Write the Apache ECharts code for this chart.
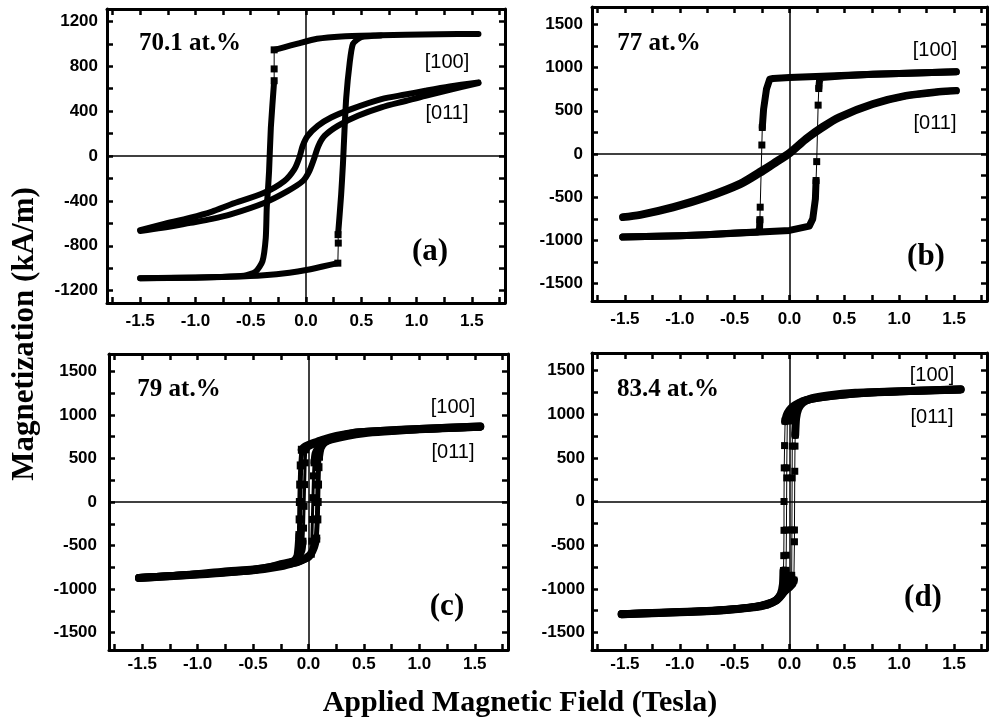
<!DOCTYPE html>
<html>
<head>
<meta charset="utf-8">
<script src="https://cdn.jsdelivr.net/npm/echarts@6/dist/echarts.min.js"></script>
<style>
  html, body { margin: 0; padding: 0; background: #fff; }
  #chart { width: 992px; height: 720px; }
</style>
</head>
<body>
<div id="chart"></div>
<script>
// Tick positions and labels
const fieldLabels = [-1.5, -1.0, -0.5, 0, 0.5, 1.0, 1.5];
const fieldTicks = [-1.75, -1.5, -1.25, -1, -0.75, -0.5, -0.25, 0, 0.25, 0.5, 0.75, 1, 1.25, 1.5, 1.75];
const magLabelsA = [-1200, -800, -400, 0, 400, 800, 1200];
const magTicksA = [-1200, -1000, -800, -600, -400, -200, 0, 200, 400, 600, 800, 1000, 1200];
const magLabels = [-1500, -1000, -500, 0, 500, 1000, 1500];
const magTicks = [-1500, -1250, -1000, -750, -500, -250, 0, 250, 500, 750, 1000, 1250, 1500];

// (a) 70.1 at.%  —  [100] loop, [field T, magnetization kA/m]
const a100Top = [[1.56,1088],[1.2,1085],[0.9,1080],[0.68,1075],[0.32,1066],[0.1,1045],[-0.075,1002],[-0.2,968],[-0.288,946]];
const a100LeftJump = [[-0.288,946],[-0.288,776],[-0.288,671]];
const a100LeftDrop = [[-0.288,671],[-0.318,253],[-0.334,-134],[-0.343,-284],[-0.355,-463],[-0.364,-731],[-0.394,-940],[-0.455,-1030],[-0.56,-1068],[-0.8,-1078],[-1.2,-1085],[-1.5,-1090]];
const a100Bottom = [[-1.5,-1090],[-1.0,-1084],[-0.68,-1076],[-0.38,-1062],[-0.15,-1040],[0.015,-1014],[0.15,-985],[0.288,-955]];
const a100RightJump = [[0.288,-955],[0.292,-776],[0.29,-701]];
const a100RightRise = [[0.29,-701],[0.318,-343],[0.334,-74],[0.348,224],[0.364,522],[0.394,821],[0.425,1000],[0.5,1059],[0.68,1074]];
// (a) [011] loop
const a011Down = [[1.56,656],[1.3,620],[1.08,582],[0.9,548],[0.682,507],[0.409,418],[0.227,343],[0.106,269],[0.015,179],[-0.03,90],[-0.061,-15],[-0.106,-119],[-0.197,-224],[-0.379,-328],[-0.682,-432],[-0.85,-495],[-1.045,-550],[-1.3,-610],[-1.5,-660]];
const a011Up = [[-1.5,-668],[-1.3,-640],[-1.045,-595],[-0.85,-560],[-0.682,-520],[-0.379,-418],[-0.167,-313],[-0.03,-224],[0.03,-134],[0.076,-15],[0.112,90],[0.167,179],[0.288,269],[0.47,358],[0.682,433],[0.9,490],[1.08,537],[1.3,590],[1.56,650]];

// (b) 77 at.%  —  [100] loop
const b100Top = [[1.52,950],[1.0,930],[0.76,923],[0.24,896],[0,884],[-0.15,873],[-0.18,865],[-0.21,750],[-0.236,519],[-0.248,307]];
const b100LeftJump = [[-0.248,307],[-0.252,104],[-0.267,-615],[-0.27,-760]];
const b100LeftTail = [[-0.27,-760],[-0.273,-865],[-0.29,-903],[-0.5,-915],[-0.76,-934],[-1.0,-945],[-1.52,-961]];
const b100Bottom = [[-1.52,-961],[-1.0,-945],[-0.76,-934],[-0.27,-903],[0,-884],[0.18,-834],[0.212,-750],[0.236,-519],[0.242,-307]];
const b100RightJump = [[0.242,-307],[0.248,-88],[0.261,565],[0.267,757]];
const b100RightTail = [[0.267,757],[0.273,846],[0.29,884],[0.5,905],[0.76,923],[1.0,932],[1.52,950]];
// (b) [011] loop
const b011Down = [[1.52,735],[1.36,722],[1.06,676],[0.76,582],[0.45,430],[0.3,318],[0.15,182],[0,20],[-0.15,-105],[-0.27,-200],[-0.45,-336],[-0.76,-492],[-1.06,-608],[-1.36,-698],[-1.52,-725]];
const b011Up = [[-1.52,-735],[-1.36,-708],[-1.06,-622],[-0.76,-508],[-0.45,-356],[-0.27,-224],[-0.15,-125],[0,0],[0.15,165],[0.3,300],[0.45,416],[0.76,572],[1.06,670],[1.36,716],[1.52,730]];

// (c) 79 at.%  —  [100] loop
const c100Top = [[1.55,868],[1.2,850],[1.0,838],[0.75,825],[0.45,800],[0.3,770],[0.2,742],[0.12,712],[0.05,680],[0,655],[-0.04,630],[-0.06,600]];
const c100LeftJump = [[-0.06,600],[-0.07,420],[-0.075,200],[-0.078,0],[-0.08,-200],[-0.082,-380]];
const c100LeftTail = [[-0.082,-380],[-0.09,-520],[-0.1,-620],[-0.13,-680],[-0.25,-715],[-0.35,-750],[-0.5,-775],[-0.77,-800],[-1.07,-836],[-1.53,-873]];
const c100Bottom = [[-1.53,-873],[-1.0,-833],[-0.5,-780],[-0.25,-725],[-0.1,-690],[-0.03,-650],[0.02,-600],[0.05,-520],[0.07,-420]];
const c100RightJump = [[0.07,-420],[0.08,-200],[0.083,0],[0.086,200],[0.09,400],[0.095,520]];
const c100RightTail = [[0.095,520],[0.11,620],[0.15,690],[0.25,745],[0.4,790],[0.6,812],[1.0,838],[1.55,868]];
// (c) [011] loop
const c011Top = [[1.55,860],[1.0,832],[0.5,795],[0.25,745],[0.12,700],[0.05,665],[0,635],[-0.025,600]];
const c011LeftJump = [[-0.025,600],[-0.03,450],[-0.035,200],[-0.04,-50],[-0.045,-300],[-0.05,-450]];
const c011LeftTail = [[-0.05,-450],[-0.06,-560],[-0.1,-650],[-0.2,-710],[-0.5,-785],[-1.0,-830],[-1.53,-866]];
const c011Bottom = [[-1.53,-866],[-1.0,-828],[-0.5,-790],[-0.25,-745],[-0.12,-700],[-0.05,-665],[0,-640],[0.025,-600]];
const c011RightJump = [[0.025,-600],[0.03,-450],[0.035,-200],[0.04,50],[0.045,300],[0.05,450]];
const c011RightTail = [[0.05,450],[0.06,560],[0.1,650],[0.2,710],[0.5,785],[1.0,830],[1.55,860]];

// (d) 83.4 at.%  —  [100] loop
const d100Top = [[1.56,1285],[1.2,1270],[0.8,1250],[0.5,1225],[0.3,1195],[0.15,1160],[0.08,1125],[0.03,1085],[0,1045],[-0.025,990],[-0.04,920]];
const d100LeftJump = [[-0.04,920],[-0.045,640],[-0.048,385],[-0.05,0],[-0.05,-330],[-0.052,-620],[-0.055,-790]];
const d100LeftTail = [[-0.055,-790],[-0.06,-950],[-0.08,-1060],[-0.12,-1130],[-0.2,-1180],[-0.35,-1215],[-0.6,-1245],[-1.0,-1268],[-1.53,-1290]];
const d100Bottom = [[-1.53,-1290],[-1.0,-1266],[-0.6,-1242],[-0.35,-1212],[-0.2,-1178],[-0.12,-1128],[-0.08,-1070],[-0.03,-1010],[0,-980],[0.025,-950],[0.04,-900]];
const d100RightJump = [[0.04,-900],[0.045,-461],[0.045,-326],[0.048,346],[0.05,634],[0.052,760]];
const d100RightTail = [[0.052,760],[0.06,950],[0.08,1060],[0.12,1130],[0.2,1180],[0.35,1215],[0.6,1245],[1.0,1262],[1.56,1282]];
// (d) [011] loop
const d011Top = [[1.56,1280],[1.0,1258],[0.5,1220],[0.2,1170],[0.08,1115],[0.02,1060],[-0.01,1000],[-0.02,923]];
const d011LeftJump = [[-0.02,923],[-0.025,385],[-0.025,270],[-0.028,-326],[-0.03,-615],[-0.032,-788]];
const d011LeftTail = [[-0.032,-788],[-0.04,-960],[-0.06,-1060],[-0.12,-1140],[-0.3,-1205],[-0.7,-1250],[-1.53,-1286]];
const d011Bottom = [[-1.53,-1286],[-0.7,-1248],[-0.3,-1200],[-0.12,-1130],[-0.04,-1030],[0.01,-950],[0.02,-845]];
const d011RightJump = [[0.02,-845],[0.022,-326],[0.024,270],[0.025,634],[0.028,923]];
const d011RightTail = [[0.028,923],[0.035,1030],[0.06,1100],[0.12,1150],[0.3,1200],[0.7,1245],[1.56,1280]];

const BLACK = '#000';
const SERIF = '"Liberation Serif", "Times New Roman", serif';
const SANS = '"Liberation Sans", Arial, sans-serif';

// Densely sampled stretch of a loop: drawn as a heavy stroke
function dense(p, data, w, smooth) {
  return {
    type: 'line', xAxisIndex: 2 * p, yAxisIndex: 2 * p, data: data,
    symbol: 'none', showSymbol: false, silent: true, z: 3,
    smooth: smooth || false,
    lineStyle: { color: BLACK, width: w, cap: 'round', join: 'round' }
  };
}
// Sparsely sampled switching stretch: square markers joined by a line
function sparse(p, data, w, size) {
  return {
    type: 'line', xAxisIndex: 2 * p, yAxisIndex: 2 * p, data: data,
    symbol: 'rect', symbolSize: size || 7, showAllSymbol: true, silent: true, z: 4,
    itemStyle: { color: BLACK },
    lineStyle: { color: BLACK, width: w || 1 }
  };
}
function zeroLines(p) {
  return {
    type: 'line', xAxisIndex: 2 * p, yAxisIndex: 2 * p, data: [], silent: true, z: 2,
    markLine: {
      silent: true, symbol: ['none', 'none'], label: { show: false },
      lineStyle: { color: BLACK, width: 1.5, type: 'solid' },
      data: [{ xAxis: 0 }, { yAxis: 0 }]
    }
  };
}

const grids = [
  { left: 107, top: 9, width: 398, height: 294 },
  { left: 592, top: 7, width: 395, height: 294 },
  { left: 109, top: 354, width: 399, height: 296 },
  { left: 592, top: 353, width: 395, height: 297 }
];
const yRange = [1310, 1700, 1700, 1700];
const xLabelMargin = [10, 10, 6, 6];
const yLabelMargin = [9, 9, 12, 7];

const axisLineStyle = { show: true, onZero: false, lineStyle: { color: BLACK, width: 3 } };
const tickStyle = (vals) => ({ show: true, inside: true, length: 6, lineStyle: { color: BLACK, width: 2.5 }, customValues: vals });

const xAxes = [], yAxes = [];
grids.forEach((g, i) => {
  xAxes.push({
    type: 'value', gridIndex: i, position: 'bottom', min: -1.8, max: 1.8,
    axisLine: axisLineStyle, axisTick: tickStyle(fieldTicks), splitLine: { show: false },
    axisLabel: {
      customValues: fieldLabels, margin: xLabelMargin[i],
      color: BLACK, fontFamily: SANS, fontWeight: 'bold', fontSize: 17,
      formatter: (v) => v.toFixed(1)
    }
  });
  xAxes.push({
    type: 'value', gridIndex: i, position: 'top', min: -1.8, max: 1.8,
    axisLine: axisLineStyle, axisTick: tickStyle(fieldTicks), splitLine: { show: false },
    axisLabel: { show: false }
  });
  const labels = i === 0 ? magLabelsA : magLabels;
  const ticks = i === 0 ? magTicksA : magTicks;
  yAxes.push({
    type: 'value', gridIndex: i, position: 'left', min: -yRange[i], max: yRange[i],
    axisLine: axisLineStyle, axisTick: tickStyle(ticks), splitLine: { show: false },
    axisLabel: {
      customValues: labels, margin: yLabelMargin[i],
      color: BLACK, fontFamily: SANS, fontWeight: 'bold', fontSize: 17,
      formatter: (v) => String(v)
    }
  });
  yAxes.push({
    type: 'value', gridIndex: i, position: 'right', min: -yRange[i], max: yRange[i],
    axisLine: axisLineStyle, axisTick: tickStyle(ticks), splitLine: { show: false },
    axisLabel: { show: false }
  });
});

const series = [
  zeroLines(0), zeroLines(1), zeroLines(2), zeroLines(3),
  dense(0, a011Down, 6, 0.3), dense(0, a011Up, 6, 0.3),
  dense(0, a100Top, 6, 0.2), sparse(0, a100LeftJump), dense(0, a100LeftDrop, 6, 0.2),
  dense(0, a100Bottom, 6, 0.2), sparse(0, a100RightJump), dense(0, a100RightRise, 6, 0.2),

  dense(1, b011Down, 7, 0.3), dense(1, b011Up, 7, 0.3),
  dense(1, b100Top, 7), sparse(1, b100LeftJump), dense(1, b100LeftTail, 7),
  dense(1, b100Bottom, 7), sparse(1, b100RightJump), dense(1, b100RightTail, 7),

  dense(2, c100Top, 8, 0.2), sparse(2, c100LeftJump, 5, 8), dense(2, c100LeftTail, 8, 0.2),
  dense(2, c100Bottom, 8, 0.2), sparse(2, c100RightJump, 5, 8), dense(2, c100RightTail, 8, 0.2),
  dense(2, c011Top, 7, 0.2), sparse(2, c011LeftJump, 3, 7), dense(2, c011LeftTail, 7, 0.2),
  dense(2, c011Bottom, 7, 0.2), sparse(2, c011RightJump, 3, 7), dense(2, c011RightTail, 7, 0.2),

  dense(3, d100Top, 8, 0.2), sparse(3, d100LeftJump), dense(3, d100LeftTail, 8, 0.2),
  dense(3, d100Bottom, 8, 0.2), sparse(3, d100RightJump), dense(3, d100RightTail, 8, 0.2),
  dense(3, d011Top, 7, 0.2), sparse(3, d011LeftJump), dense(3, d011LeftTail, 7, 0.2),
  dense(3, d011Bottom, 7, 0.2), sparse(3, d011RightJump), dense(3, d011RightTail, 7, 0.2)
];

function label(text, x, y, font, sx, rot) {
  return {
    type: 'text', x: x, y: y, scaleX: sx || 1, rotation: rot || 0, silent: true, z: 10,
    style: {
      text: text, font: font, fill: BLACK,
      align: 'center', verticalAlign: 'middle',
      textAlign: 'center', textVerticalAlign: 'middle'
    }
  };
}
const compFont = 'bold 25px ' + SERIF;
const dirFont = '20px ' + SANS;
const tagFont = 'bold 31px ' + SERIF;
const xTitleFont = 'bold 30px ' + SERIF;
const yTitleFont = 'bold 31px ' + SERIF;

const graphic = [
  label('70.1 at.%', 190, 44, compFont),
  label('[100]', 447, 62, dirFont),
  label('[011]', 447, 113, dirFont),
  label('(a)', 430, 252, tagFont),

  label('77 at.%', 659, 44, compFont),
  label('[100]', 935, 50, dirFont),
  label('[011]', 935, 123, dirFont),
  label('(b)', 926, 257, tagFont),

  label('79 at.%', 179, 390, compFont),
  label('[100]', 453, 407, dirFont),
  label('[011]', 453, 452, dirFont),
  label('(c)', 447, 607, tagFont),

  label('83.4 at.%', 668, 390, compFont),
  label('[100]', 932, 375, dirFont),
  label('[011]', 932, 417, dirFont),
  label('(d)', 923, 598, tagFont),

  label('Applied Magnetic Field (Tesla)', 520, 703, xTitleFont),
  label('Magnetization (kA/m)', 25, 334, yTitleFont, 1, Math.PI / 2)
];

const chart = echarts.init(document.getElementById('chart'), null, { renderer: 'canvas' });
chart.setOption({
  backgroundColor: '#fff',
  animation: false,
  grid: grids.map(g => Object.assign({ containLabel: false }, g)),
  xAxis: xAxes,
  yAxis: yAxes,
  series: series,
  graphic: graphic
});
</script>
</body>
</html>
